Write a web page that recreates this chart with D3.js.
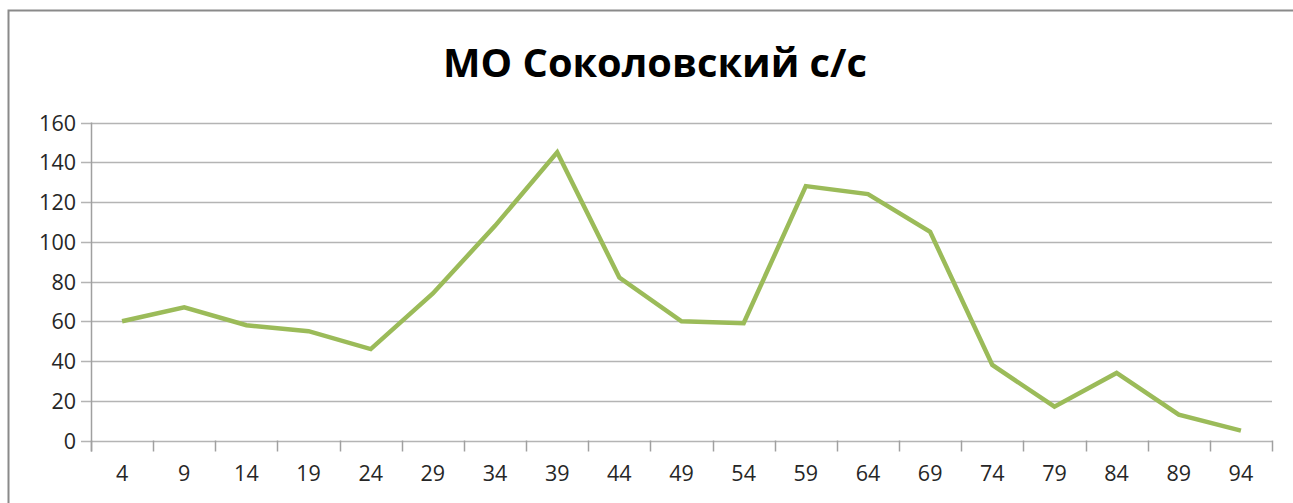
<!DOCTYPE html>
<html>
<head>
<meta charset="utf-8">
<script src="https://cdn.jsdelivr.net/npm/d3@7"></script>
<style>
  html, body { margin: 0; padding: 0; background: #fff; }
  svg { display: block; }
</style>
</head>
<body>
<svg id="chart" width="1293" height="503"></svg>
<script>
const title = "МО Соколовский с/с";
const categories = ["4","9","14","19","24","29","34","39","44","49","54","59","64","69","74","79","84","89","94"];
const values = [60, 67, 58, 55, 46, 74, 108, 145, 82, 60, 59, 128, 124, 105, 38, 17, 34, 13, 5];
const yTicks = [0, 20, 40, 60, 80, 100, 120, 140, 160];

const W = 1293, H = 503;
const plot = { left: 91, right: 1272, top: 122.5, bottom: 440.5 };
const svg = d3.select("#chart");

// outer chart frame (partly cut off at right / bottom)
svg.append("rect")
  .attr("x", 8.5).attr("y", 10.5)
  .attr("width", W + 20).attr("height", H + 20)
  .attr("fill", "#fff")
  .attr("stroke", "#8a8a8a").attr("stroke-width", 2);

const x = d3.scaleBand().domain(categories).range([plot.left, plot.right]).padding(0);
const y = d3.scaleLinear().domain([0, 160]).range([plot.bottom, plot.top]);

// gridlines
svg.append("g")
  .selectAll("line").data(yTicks).join("line")
  .attr("x1", plot.left - 10).attr("x2", plot.right)
  .attr("y1", d => Math.round(y(d)) + 0.5).attr("y2", d => Math.round(y(d)) + 0.5)
  .attr("stroke", "#b4b4b4").attr("stroke-width", 1.5);

// y axis
const yAxis = d3.axisLeft(y).tickValues(yTicks).tickSize(0).tickPadding(15);
const gy = svg.append("g").attr("transform", `translate(${plot.left},0)`).call(yAxis);
gy.select(".domain").remove();
gy.selectAll("text")
  .attr("font-family", "'Open Sans', sans-serif")
  .attr("font-size", 21.5).attr("fill", "#262626").attr("dy", "0.35em");
svg.append("line")
  .attr("x1", plot.left + 0.5).attr("x2", plot.left + 0.5)
  .attr("y1", plot.top).attr("y2", plot.bottom + 11)
  .attr("stroke", "#a0a0a0").attr("stroke-width", 1.5);

// x axis
const xAxis = d3.axisBottom(x).tickSize(0).tickPadding(25);
const gx = svg.append("g").attr("transform", `translate(0,${plot.bottom})`).call(xAxis);
gx.select(".domain").remove();
gx.selectAll("text")
  .attr("font-family", "'Open Sans', sans-serif")
  .attr("font-size", 21.5).attr("fill", "#262626");
// category boundary ticks
const bounds = categories.map(c => x(c)).concat([x(categories[categories.length - 1]) + x.bandwidth()]);
svg.append("g").selectAll("line").data(bounds).join("line")
  .attr("x1", d => Math.round(d) + 0.5).attr("x2", d => Math.round(d) + 0.5)
  .attr("y1", plot.bottom).attr("y2", plot.bottom + 11)
  .attr("stroke", "#a0a0a0").attr("stroke-width", 1.5);

// series line
const line = d3.line()
  .x((d, i) => x(categories[i]) + x.bandwidth() / 2)
  .y(d => y(d));
svg.append("path")
  .datum(values)
  .attr("d", line)
  .attr("fill", "none")
  .attr("stroke", "#9bbb59")
  .attr("stroke-width", 4.5)
  .attr("stroke-linejoin", "miter");

// title
const t = svg.append("text")
  .attr("x", 655).attr("y", 77)
  .attr("text-anchor", "middle")
  .attr("font-family", "'Open Sans', sans-serif")
  .attr("font-weight", "bold")
  .attr("font-size", 40)
  .attr("fill", "#000")
  .text(title);
const tw = t.node().getComputedTextLength();
t.attr("font-size", 40 * 424 / tw);
</script>
</body>
</html>
